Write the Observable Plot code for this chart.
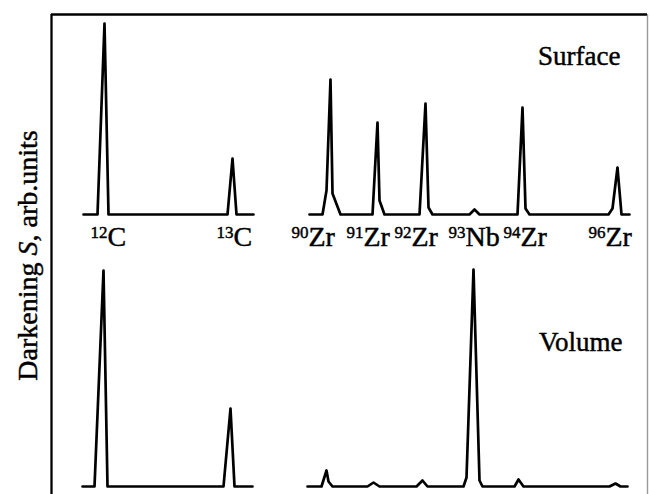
<!DOCTYPE html>
<html>
<head>
<meta charset="utf-8">
<script src="https://cdn.jsdelivr.net/npm/d3@7"></script>
<script src="https://cdn.jsdelivr.net/npm/@observablehq/plot@0.6"></script>
<style>
  html, body { margin: 0; padding: 0; overflow: hidden; background: #fff; }
</style>
</head>
<body>
<div id="chart"></div>
<script>
// Panels
const panels = ["Surface", "Volume"];

// Scan position along the plate (arb.) and darkening S (arb. units)
const surfaceC_x  = [32, 46, 53, 57, 176, 181, 185, 202];
const surfaceC_y  = [0, 0, 191, 0, 0, 56, 0, 0];

const surfaceZr_x = [258, 271, 275, 279, 281, 289, 321, 326, 328, 333, 368, 374, 377, 381, 418, 423, 428, 466, 471, 474, 478, 557, 561, 566, 570, 578];
const surfaceZr_y = [0, 0, 24, 135, 21, 0, 0, 92, 14, 0, 0, 111, 7, 0, 0, 5, 0, 0, 107, 6, 0, 0, 6, 47, 0, 0];

const volumeC_x   = [31, 43, 52, 56, 172, 179, 183, 201];
const volumeC_y   = [0, 0, 216, 0, 0, 78, 0, 0];

const volumeZr_x  = [256, 270, 275, 277, 281, 316, 322, 328, 365, 371, 376, 412, 415, 422, 428, 431, 463, 467, 472, 558, 564, 569, 576];
const volumeZr_y  = [0, 0, 16, 5, 0, 0, 4, 0, 0, 6, 0, 0, 9, 217, 6, 0, 0, 7, 0, 0, 3, 0, 0];

// Isotope labels (under the Surface spectrum)
const isotopeMass   = ["12", "13", "90", "91", "92", "93", "94", "96"];
const isotopeSymbol = ["C", "C", "Zr", "Zr", "Zr", "Nb", "Zr", "Zr"];
const isotopeLabelX = [56, 182, 257, 312, 360, 414, 469, 554];

const yLabel = "Darkening S, arb.units";

// ---- build tables ----
function rows(xs, ys, panel, trace) {
  return xs.map((x, i) => ({x, y: ys[i], panel, trace}));
}
const traces = [
  ...rows(surfaceC_x, surfaceC_y, panels[0], "sC"),
  ...rows(surfaceZr_x, surfaceZr_y, panels[0], "sZr"),
  ...rows(volumeC_x, volumeC_y, panels[1], "vC"),
  ...rows(volumeZr_x, volumeZr_y, panels[1], "vZr")
];
const labels = isotopeMass.map((m, i) => ({mass: m, sym: isotopeSymbol[i], x: isotopeLabelX[i], y: 0, panel: panels[0]}));

const serif = "Liberation Serif, Times New Roman, Times, serif";
const ink = {fill: "black", stroke: "black", strokeWidth: 0.45, fontFamily: serif};

const chart = Plot.plot({
  width: 650,
  height: 558,
  marginLeft: 51,
  marginRight: 3,
  marginTop: 14,
  marginBottom: 0,
  style: "font-family: 'Liberation Serif', 'Times New Roman', serif; background: white; color: black;",
  x: {domain: [0, 596], axis: null},
  y: {domain: [-72, 200], axis: null},
  fy: {domain: panels, padding: 0, axis: null},
  marks: [
    // frame
    Plot.ruleX([0], {stroke: "black", strokeWidth: 2.3}),
    Plot.ruleX([596], {stroke: "#9a9a9a", strokeWidth: 1.4}),
    Plot.ruleY([{panel: panels[0], y: 200}], {y: "y", fy: "panel", stroke: "black", strokeWidth: 2.3}),
    // spectra
    Plot.line(traces, {x: "x", y: "y", z: "trace", fy: "panel", stroke: "black", strokeWidth: 2.7, strokeLinejoin: "round"}),
    // isotope labels
    Plot.text(labels, {x: "x", y: "y", fy: "panel", text: "mass", textAnchor: "end", lineAnchor: "bottom", dy: 23, fontSize: 17, ...ink}),
    Plot.text(labels, {x: "x", y: "y", fy: "panel", text: "sym", textAnchor: "start", lineAnchor: "bottom", dy: 31, fontSize: 28, ...ink}),
    // panel titles
    Plot.text([{panel: panels[0], t: panels[0]}], {fy: "panel", text: "t", frameAnchor: "top-right", textAnchor: "end", lineAnchor: "bottom", dx: -27, dy: 50, fontSize: 27, ...ink}),
    Plot.text([{panel: panels[1], t: panels[1]}], {fy: "panel", text: "t", frameAnchor: "top-right", textAnchor: "end", lineAnchor: "bottom", dx: -25, dy: 64, fontSize: 27, ...ink}),
    // y label
    Plot.text([{panel: panels[0], t: yLabel}], {fy: "panel", text: "t", frameAnchor: "left", rotate: -90, textAnchor: "middle", lineAnchor: "bottom", dx: -15, dy: 105, fontSize: 28, ...ink})
  ]
});

// italic S in the y label
d3.select(chart).selectAll("text").filter(function() { return this.textContent === yLabel; })
  .html('Darkening <tspan font-style="italic">S</tspan>, arb.units');

document.getElementById("chart").appendChild(chart);
</script>
</body>
</html>
